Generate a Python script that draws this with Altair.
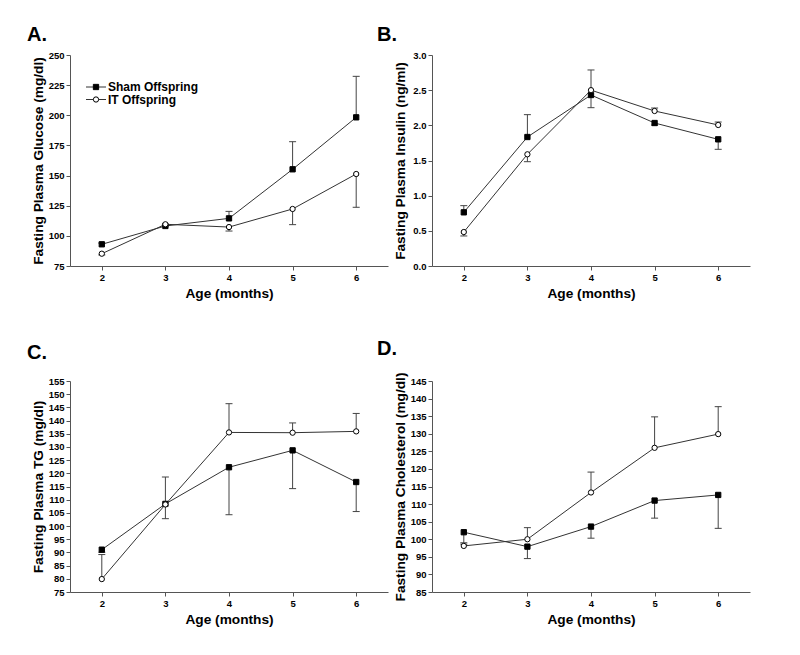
import altair as alt
import pandas as pd

months = [2, 3, 4, 5, 6]
series_names = ["Sham Offspring", "IT Offspring"]

# A. Glucose (mg/dl)
glucose_sham = [93.0, 108.2, 114.5, 155.2, 198.3]
glucose_sham_err = [1.0, 1.0, 5.8, 22.9, 34.0]
glucose_it = [85.2, 109.6, 107.3, 122.3, 151.3]
glucose_it_err = [-1.0, -1.5, -3.3, -13.0, -27.6]
glucose_ticks = [75, 100, 125, 150, 175, 200, 225, 250]

# B. Insulin (ng/ml)
insulin_sham = [0.763, 1.834, 2.431, 2.033, 1.801]
insulin_sham_err = [0.095, 0.318, -0.18, -0.03, -0.142]
insulin_it = [0.483, 1.588, 2.50, 2.204, 2.005]
insulin_it_err = [-0.056, -0.105, 0.287, 0.042, 0.042]
insulin_ticks = [0.0, 0.5, 1.0, 1.5, 2.0, 2.5, 3.0]

# C. TG (mg/dl)
tg_sham = [91.05, 108.4, 122.3, 128.7, 116.7]
tg_sham_err = [-1.0, -5.6, -18.0, -14.5, -11.2]
tg_it = [79.9, 108.2, 135.5, 135.4, 135.9]
tg_it_err = [9.3, 10.4, 10.9, 3.7, 6.8]
tg_ticks = list(range(75, 160, 5))

# D. Cholesterol (mg/dl)
chol_sham = [102.0, 97.9, 103.6, 111.0, 112.6]
chol_sham_err = [-3.0, -3.4, -3.3, -5.0, -9.5]
chol_it = [98.1, 100.0, 113.3, 126.0, 129.9]
chol_it_err = [0.5, 3.3, 5.8, 8.8, 7.8]
chol_ticks = list(range(85, 150, 5))

FONT = "Liberation Sans"
W, H = 318, 211
MSIZE = 28


def make_df(sham, sham_err, it, it_err):
    rows = []
    for s, vals, errs in ((series_names[0], sham, sham_err), (series_names[1], it, it_err)):
        for m, v, e in zip(months, vals, errs):
            rows.append({"month": m, "series": s, "value": v, "end": v + e})
    return pd.DataFrame(rows)


shape_scale = alt.Scale(domain=series_names, range=["square", "circle"])
fill_scale = alt.Scale(domain=series_names, range=["black", "white"])


def panel(df, letter, ytitle, ydomain, yticks, yfmt, t_dx, t_offset, legend=False):
    xaxis = alt.Axis(values=months, format="d", title="Age (months)")
    xs = alt.Scale(domain=[1.5, 6.5], nice=False, zero=False)
    yaxis = alt.Axis(values=yticks, format=yfmt, title=ytitle)
    ys = alt.Scale(domain=ydomain, nice=False, zero=False)
    x = alt.X("month:Q", scale=xs, axis=xaxis)
    base = alt.Chart(df)
    line = base.mark_line(color="#333333", strokeWidth=1).encode(
        x=x, y=alt.Y("value:Q", scale=ys, axis=yaxis), detail="series:N")
    err = base.mark_rule(color="#444444", strokeWidth=1).encode(
        x=x, y=alt.Y("value:Q", scale=ys, axis=yaxis), y2="end:Q")
    cap = base.mark_point(shape="M-1,0L1,0", size=49, color="#444444",
                          strokeWidth=1, filled=False, opacity=1).encode(
        x=x, y=alt.Y("end:Q", scale=ys, axis=yaxis))
    pts = base.mark_point(size=MSIZE, strokeWidth=1, opacity=1, stroke="black").encode(
        x=x, y=alt.Y("value:Q", scale=ys, axis=yaxis),
        shape=alt.Shape("series:N", scale=shape_scale, legend=None),
        fill=alt.Fill("series:N", scale=fill_scale, legend=None))
    layers = [line, err, cap, pts]
    if legend:
        for i, name in enumerate(series_names):
            ldf = pd.DataFrame({"series": [name]})
            yv = 32 + i * 12.5
            lb = alt.Chart(ldf)
            layers.append(lb.mark_rule(color="#333333", strokeWidth=1).encode(
                x=alt.value(16), x2=alt.value(36), y=alt.value(yv)))
            layers.append(lb.mark_point(size=MSIZE, strokeWidth=1, opacity=1, stroke="black").encode(
                x=alt.value(26), y=alt.value(yv),
                shape=alt.Shape("series:N", scale=shape_scale, legend=None),
                fill=alt.Fill("series:N", scale=fill_scale, legend=None)))
            layers.append(lb.mark_text(align="left", baseline="middle", fontSize=12,
                                       font=FONT, fontWeight="bold", color="black").encode(
                x=alt.value(38), y=alt.value(yv), text="series:N"))
    return alt.layer(*layers).properties(
        width=W, height=H,
        title=alt.TitleParams(letter, anchor="start", frame="group", fontSize=20,
                              font=FONT, fontWeight="bold", dx=t_dx, offset=t_offset,
                              color="black"))


pA = panel(make_df(glucose_sham, glucose_sham_err, glucose_it, glucose_it_err), "A.",
           "Fasting Plasma Glucose (mg/dl)", [75, 250], glucose_ticks, "d", -43, 5.5, legend=True)
pB = panel(make_df(insulin_sham, insulin_sham_err, insulin_it, insulin_it_err), "B.",
           "Fasting Plasma Insulin (ng/ml)", [0, 3], insulin_ticks, ".1f", -55, 5.5)
pC = panel(make_df(tg_sham, tg_sham_err, tg_it, tg_it_err), "C.",
           "Fasting Plasma TG (mg/dl)", [75, 155], tg_ticks, "d", -43, 13.5)
pD = panel(make_df(chol_sham, chol_sham_err, chol_it, chol_it_err), "D.",
           "Fasting Plasma Cholesterol (mg/dl)", [85, 145], chol_ticks, "d", -55, 13.5)

chart = alt.concat(pA, pB, pC, pD, columns=2, spacing={"row": 115, "column": 44},
                   bounds="flush").properties(
    padding={"left": 19, "top": 16, "right": 5, "bottom": 5}
).configure_view(stroke=None).configure_axis(
    grid=False, domainColor="#555555", tickColor="#555555", domainWidth=1, tickWidth=1,
    tickSize=4, labelFont=FONT, labelFontWeight="bold", labelFontSize=9.5,
    labelColor="black", labelPadding=2, titleFont=FONT, titleFontWeight="bold",
    titleFontSize=13.7, titleColor="black"
).configure_axisY(minExtent=22, maxExtent=22, titlePadding=3
).configure_axisX(minExtent=16, maxExtent=16, titlePadding=4)

chart.save("out.html", embed_options={"renderer": "svg", "actions": False})
